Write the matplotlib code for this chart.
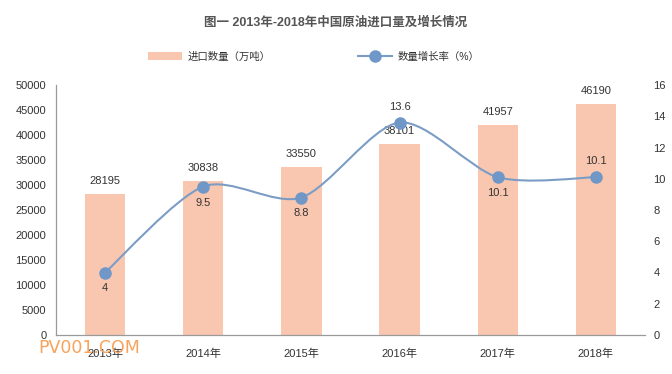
import matplotlib
matplotlib.use("Agg")
import matplotlib.pyplot as plt
from matplotlib.path import Path
from matplotlib.patches import PathPatch
from matplotlib.lines import Line2D
from matplotlib.patches import Patch

plt.rcParams['font.family'] = ['Liberation Sans', 'Noto Sans CJK SC', 'DejaVu Sans']

years = ["2013年", "2014年", "2015年", "2016年", "2017年", "2018年"]
imports = [28195, 30838, 33550, 38101, 41957, 46190]
growth = [4, 9.5, 8.8, 13.6, 10.1, 10.1]
growth_labels = ["4", "9.5", "8.8", "13.6", "10.1", "10.1"]
left_ticks = [0, 5000, 10000, 15000, 20000, 25000, 30000, 35000, 40000, 45000, 50000]
right_ticks = [0, 2, 4, 6, 8, 10, 12, 14, 16]

title = "图一 2013年-2018年中国原油进口量及增长情况"
bar_name = "进口数量（万吨）"
line_name = "数量增长率（%）"

bar_color = "#F9C7B0"
line_color = "#7B9DC5"
marker_color = "#6F97C7"
text_color = "#333333"
axis_color = "#9A9A9A"

fig = plt.figure(figsize=(6.72, 3.74), dpi=100)
ax = fig.add_axes([56/672, 39/374, (645-56)/672, (335-85)/374])
x = list(range(len(years)))

ax.bar(x, imports, width=0.41, color=bar_color, zorder=1)
ax.set_xlim(-0.5, len(years) - 0.5)
ax.set_ylim(0, 50000)
ax.set_yticks(left_ticks)
ax.set_yticklabels([str(t) for t in left_ticks])
ax.set_xticks(x)
ax.set_xticklabels(years)
ax.tick_params(axis='y', length=0, pad=7, labelsize=8, labelcolor=text_color)
ax.tick_params(axis='x', length=0, pad=10, labelsize=8, labelcolor=text_color)
for s in ['top', 'right']:
    ax.spines[s].set_visible(False)
ax.spines['left'].set_color(axis_color)
ax.spines['bottom'].set_color(axis_color)
ax.spines['left'].set_linewidth(0.9)
ax.spines['bottom'].set_linewidth(0.9)

for xi, v in zip(x, imports):
    ax.annotate(str(v), (xi, v), xytext=(0, 9.5), textcoords='offset points',
                ha='center', va='center', fontsize=8, color=text_color, zorder=5)

ax2 = ax.twinx()
ax2.set_ylim(0, 16)
ax2.set_yticks(right_ticks)
ax2.set_yticklabels([str(t) for t in right_ticks])
ax2.tick_params(axis='y', length=0, pad=6, labelsize=8, labelcolor=text_color)
for s in ['top', 'right', 'left', 'bottom']:
    ax2.spines[s].set_visible(False)

# smooth curve through the data points (rendering only)
pts = list(zip(x, growth))
s = 0.14
verts = [pts[0]]
codes = [Path.MOVETO]
n = len(pts)
for i in range(n - 1):
    p0 = pts[i - 1] if i > 0 else pts[i]
    p1 = pts[i]
    p2 = pts[i + 1]
    p3 = pts[i + 2] if i + 2 < n else pts[i + 1]
    c1 = (p1[0] + (p2[0] - p0[0]) * s, p1[1] + (p2[1] - p0[1]) * s)
    c2 = (p2[0] - (p3[0] - p1[0]) * s, p2[1] - (p3[1] - p1[1]) * s)
    verts += [c1, c2, p2]
    codes += [Path.CURVE4] * 3
ax2.add_patch(PathPatch(Path(verts, codes), fill=False, edgecolor=line_color,
                        linewidth=1.5, zorder=3))
ax2.plot(x, growth, linestyle='none', marker='o', markersize=8,
         color=marker_color, zorder=4)

label_side = [-1, -1, -1, 1, -1, 1]
for xi, v, lab, side in zip(x, growth, growth_labels, label_side):
    ax2.annotate(lab, (xi, v), xytext=(0, 11.5 * side), textcoords='offset points',
                 ha='center', va='center', fontsize=8, color=text_color, zorder=5)

fig.text(0.5, 1 - 22/374, title, ha='center', va='center', fontsize=9,
         fontweight='bold', color='#555555')

# legend
handles = [Patch(facecolor=bar_color, edgecolor='none'),
           Line2D([0], [0], color=line_color, linewidth=1.5, marker='o',
                  markersize=8, markerfacecolor=marker_color,
                  markeredgecolor=marker_color)]
leg = fig.legend(handles, [bar_name, line_name], loc='center',
                 bbox_to_anchor=(314/672, 1 - 57/374), ncol=2, frameon=False,
                 fontsize=7.5, handlelength=3.2, handleheight=0.8,
                 columnspacing=8.4, handletextpad=0.6)
for t in leg.get_texts():
    t.set_color(text_color)

fig.text(38/672, 1 - 348/374, "PV001.COM", ha='left', va='center',
         fontsize=12.5, color='#F7A35C', family='DejaVu Sans')

fig.savefig("out.png", dpi=100)
